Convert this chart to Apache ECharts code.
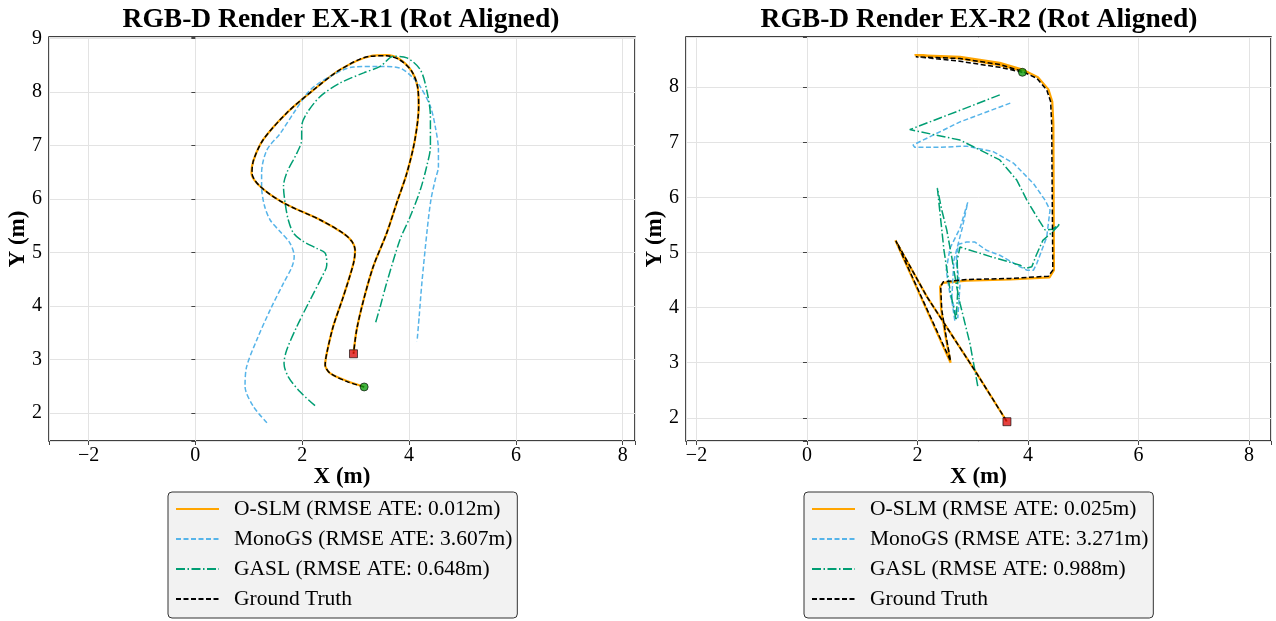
<!DOCTYPE html>
<html>
<head>
<meta charset="utf-8">
<script src="https://cdn.jsdelivr.net/npm/echarts@6/dist/echarts.min.js"></script>
<style>
  html, body { margin: 0; padding: 0; background: #fff; }
  #chart { width: 1276px; height: 621px; }
</style>
</head>
<body>
<div id="chart"></div>
<script>
// ---- EX-R1 trajectories [x, y] in metres ----
const gtR1 = [
  [3.16, 2.49], [2.84, 2.59], [2.52, 2.75], [2.43, 2.90], [2.46, 3.12], [2.58, 3.62],
  [2.77, 4.18], [2.96, 4.80], [2.99, 5.05], [2.93, 5.21], [2.77, 5.36], [2.34, 5.61],
  [1.65, 5.93], [1.21, 6.24], [1.06, 6.49], [1.09, 6.73], [1.27, 7.11], [1.71, 7.61],
  [2.21, 8.04], [2.71, 8.42], [3.27, 8.67], [3.58, 8.68], [3.83, 8.60], [4.05, 8.39],
  [4.16, 8.10], [4.18, 7.73], [4.11, 7.11], [3.96, 6.49], [3.77, 5.93], [3.58, 5.36],
  [3.33, 4.74], [3.15, 4.12], [3.02, 3.56], [2.96, 3.11]
];
const oslmR1 = [
  [3.16, 2.49], [2.84, 2.60], [2.52, 2.75], [2.43, 2.90], [2.46, 3.12], [2.58, 3.62],
  [2.77, 4.18], [2.96, 4.80], [2.99, 5.05], [2.93, 5.21], [2.77, 5.36], [2.34, 5.61],
  [1.65, 5.93], [1.21, 6.24], [1.05, 6.49], [1.09, 6.73], [1.27, 7.11], [1.71, 7.61],
  [2.21, 8.04], [2.71, 8.42], [3.27, 8.67], [3.58, 8.69], [3.83, 8.61], [4.05, 8.39],
  [4.16, 8.10], [4.18, 7.73], [4.11, 7.11], [3.96, 6.49], [3.77, 5.93], [3.58, 5.36],
  [3.33, 4.74], [3.15, 4.12], [3.02, 3.56], [2.96, 3.11]
];
const monoR1 = [
  [1.34, 1.82], [1.09, 2.12], [0.93, 2.50], [0.96, 2.87], [1.15, 3.37], [1.40, 3.93],
  [1.65, 4.43], [1.81, 4.74], [1.85, 4.93], [1.77, 5.18], [1.59, 5.39], [1.40, 5.61],
  [1.29, 5.89], [1.24, 6.24], [1.24, 6.49], [1.34, 6.92], [1.59, 7.23], [1.84, 7.61],
  [2.15, 8.04], [2.52, 8.29], [2.96, 8.47], [3.46, 8.48], [3.83, 8.45], [4.05, 8.29],
  [4.21, 8.10], [4.40, 7.73], [4.49, 7.36], [4.55, 6.92], [4.55, 6.61], [4.49, 6.36],
  [4.41, 5.99], [4.34, 5.43], [4.24, 4.43], [4.19, 3.81], [4.15, 3.34]
];
const gaslR1 = [
  [2.24, 2.14], [1.96, 2.40], [1.74, 2.68], [1.66, 2.93], [1.71, 3.18], [1.90, 3.62],
  [2.15, 4.12], [2.37, 4.55], [2.46, 4.77], [2.43, 4.99], [2.27, 5.08], [2.02, 5.21],
  [1.84, 5.36], [1.74, 5.61], [1.68, 5.93], [1.65, 6.24], [1.71, 6.49], [1.90, 6.86],
  [1.99, 7.11], [1.99, 7.36], [2.09, 7.61], [2.34, 7.92], [2.71, 8.17], [3.15, 8.36],
  [3.46, 8.48], [3.71, 8.67], [3.96, 8.64], [4.21, 8.42], [4.33, 8.04], [4.40, 7.54],
  [4.40, 6.98], [4.33, 6.61], [4.21, 6.17], [4.02, 5.67], [3.83, 5.24], [3.58, 4.43],
  [3.46, 3.99], [3.37, 3.68]
];

// ---- EX-R2 trajectories ----
const gtR2 = [
  [3.90, 8.27], [3.49, 8.36], [2.77, 8.47], [1.97, 8.55], [2.77, 8.52], [3.49, 8.41],
  [3.89, 8.29], [4.16, 8.16], [4.34, 7.95], [4.41, 7.74], [4.43, 7.34], [4.45, 4.68],
  [4.37, 4.57], [3.68, 4.53], [2.89, 4.51], [2.47, 4.47], [2.42, 4.38], [2.44, 3.96],
  [2.52, 3.47], [2.60, 3.03], [1.61, 5.21], [2.17, 4.20], [3.07, 2.81], [3.62, 1.93]
];
const oslmR2 = [
  [3.90, 8.30], [3.49, 8.40], [2.77, 8.52], [1.95, 8.58], [2.77, 8.55], [3.49, 8.44],
  [3.90, 8.32], [4.18, 8.18], [4.37, 7.96], [4.44, 7.74], [4.46, 7.34], [4.47, 4.68],
  [4.39, 4.55], [3.68, 4.51], [2.89, 4.49], [2.46, 4.45], [2.41, 4.38], [2.43, 3.96],
  [2.51, 3.47], [2.60, 3.00], [1.60, 5.22], [2.17, 4.20], [3.07, 2.81], [3.62, 1.93]
];
const monoR2 = [
  [3.68, 7.71], [2.77, 7.37], [1.92, 6.95], [1.95, 6.91], [2.41, 6.91], [2.89, 6.93],
  [3.37, 6.83], [3.74, 6.62], [4.10, 6.25], [4.31, 5.95], [4.40, 5.77], [4.37, 5.53],
  [4.34, 5.28], [4.25, 5.04], [4.16, 4.80], [4.10, 4.68], [3.98, 4.68], [3.86, 4.74],
  [3.49, 4.95], [3.25, 5.04], [3.04, 5.19], [2.89, 5.19], [2.74, 5.15], [2.70, 4.83],
  [2.77, 4.41], [2.73, 3.81], [2.59, 4.23], [2.52, 4.68], [2.59, 5.08], [2.77, 5.44],
  [2.91, 5.91], [2.81, 5.44], [2.66, 4.86], [2.62, 4.14], [2.68, 3.74]
];
const gaslR2 = [
  [3.49, 7.86], [2.77, 7.58], [1.86, 7.23], [2.77, 7.04], [3.49, 6.68], [3.80, 6.31],
  [3.98, 5.95], [4.16, 5.65], [4.31, 5.41], [4.44, 5.42], [4.58, 5.52], [4.44, 5.37],
  [4.27, 5.22], [4.15, 4.95], [4.07, 4.74], [3.95, 4.71], [3.86, 4.77], [3.31, 4.93],
  [2.77, 5.10], [2.72, 4.86], [2.73, 4.32], [2.70, 3.77], [2.59, 4.32], [2.48, 5.04],
  [2.36, 6.17], [2.44, 5.77], [2.53, 5.41], [2.62, 4.92], [2.71, 4.38], [2.77, 4.08],
  [2.95, 3.35], [3.10, 2.53]
];

const titles = ["RGB-D Render EX-R1 (Rot Aligned)", "RGB-D Render EX-R2 (Rot Aligned)"];
const namesR1 = ["O-SLM (RMSE ATE: 0.012m)", "MonoGS (RMSE ATE: 3.607m)", "GASL (RMSE ATE: 0.648m)", "Ground Truth"];
const namesR2 = ["O-SLM (RMSE ATE: 0.025m)", "MonoGS (RMSE ATE: 3.271m)", "GASL (RMSE ATE: 0.988m)", "Ground Truth"];

const FONT = "'Liberation Serif', 'Times New Roman', serif";
const ORANGE = "#FFA500", BLUE = "#56B4E9", GREEN = "#009E73";

function tickFmt(step) {
  return function (v) {
    if (Math.abs(v / step - Math.round(v / step)) > 1e-6) return "";
    const r = Math.round(v);
    return r < 0 ? "\u2212" + Math.abs(r) : String(r);
  };
}

function xAxisCfg(idx, min, max) {
  return {
    type: "value", gridIndex: idx, min: min, max: max,
    splitNumber: 5, minInterval: 2, maxInterval: 2,
    name: "X (m)", nameLocation: "middle", nameGap: 25, nameMoveOverlap: false,
    nameTextStyle: { fontFamily: FONT, fontSize: 23, fontWeight: "bold", color: "#000" },
    axisLine: { show: false },
    axisTick: { show: true, length: 4, lineStyle: { color: "#444" } },
    axisLabel: { margin: 5, fontFamily: FONT, fontSize: 20, color: "#000", formatter: tickFmt(2) },
    splitLine: { show: true, lineStyle: { color: "#e3e3e3", width: 1 } }
  };
}

function yAxisCfg(idx, min, max) {
  return {
    type: "value", gridIndex: idx, min: min, max: max,
    splitNumber: 8, minInterval: 1, maxInterval: 1,
    name: "Y (m)", nameLocation: "middle", nameGap: 19, nameRotate: 90, nameMoveOverlap: false,
    nameTextStyle: { fontFamily: FONT, fontSize: 23, fontWeight: "bold", color: "#000" },
    axisLine: { show: false },
    axisTick: { show: true, length: 4, lineStyle: { color: "#444" } },
    axisLabel: { margin: 7, fontFamily: FONT, fontSize: 20, color: "#000", formatter: tickFmt(1) },
    splitLine: { show: true, lineStyle: { color: "#e3e3e3", width: 1 } }
  };
}

function trajSeries(idx, names, oslm, mono, gasl, gt, smooth) {
  const base = { type: "line", xAxisIndex: idx, yAxisIndex: idx, symbol: "none", smooth: smooth, silent: true };
  return [
    Object.assign({}, base, { name: names[0], data: oslm, z: 2,
      lineStyle: { color: ORANGE, width: 2.2, type: "solid" }, itemStyle: { color: ORANGE } }),
    Object.assign({}, base, { name: names[1], data: mono, z: 3,
      lineStyle: { color: BLUE, width: 1.5, type: [5, 2.5] }, itemStyle: { color: BLUE } }),
    Object.assign({}, base, { name: names[2], data: gasl, z: 3,
      lineStyle: { color: GREEN, width: 1.5, type: [9, 2.5, 1.5, 2.5] }, itemStyle: { color: GREEN } }),
    Object.assign({}, base, { name: names[3], data: gt, z: 4,
      lineStyle: { color: "#000", width: 1.5, type: [5, 2.5] }, itemStyle: { color: "#000" } }),
    { type: "scatter", xAxisIndex: idx, yAxisIndex: idx, silent: true, z: 6,
      symbol: "circle", symbolSize: 8, data: [gt[0]],
      itemStyle: { color: "#11a011", borderColor: "#000", borderWidth: 0.8 } },
    { type: "scatter", xAxisIndex: idx, yAxisIndex: idx, silent: true, z: 6,
      symbol: "rect", symbolSize: 8, data: [gt[gt.length - 1]],
      itemStyle: { color: "#dd1111", borderColor: "#000", borderWidth: 0.8 } }
  ];
}

function legendCfg(left, names) {
  return {
    left: left, top: 492, height: 160, orient: "vertical",
    data: names, itemWidth: 43, itemHeight: 14, itemGap: 8,
    padding: [6, 5, 8, 7],
    backgroundColor: "#f2f2f2", borderColor: "#333", borderWidth: 1, borderRadius: 4,
    selectedMode: false,
    itemStyle: { opacity: 0 },
    textStyle: { fontFamily: FONT, fontSize: 21.5, color: "#000", lineHeight: 20, padding: [0, 0, 0, 10] }
  };
}

const chart = echarts.init(document.getElementById("chart"), null, { renderer: "canvas" });
chart.setOption({
  animation: false,
  backgroundColor: "#fff",
  title: [
    { text: titles[0], left: 336, top: 1, textAlign: "center",
      textStyle: { fontFamily: FONT, fontSize: 27.5, fontWeight: "bold", color: "#000" } },
    { text: titles[1], left: 974, top: 1, textAlign: "center",
      textStyle: { fontFamily: FONT, fontSize: 27.5, fontWeight: "bold", color: "#000" } }
  ],
  grid: [
    { left: 49, top: 37, width: 586, height: 404, show: true, borderColor: "#000", borderWidth: 1.4, backgroundColor: "#fff" },
    { left: 686, top: 37, width: 585, height: 404, show: true, borderColor: "#000", borderWidth: 1.4, backgroundColor: "#fff" }
  ],
  xAxis: [xAxisCfg(0, -2.74, 8.23), xAxisCfg(1, -2.19, 8.40)],
  yAxis: [yAxisCfg(0, 1.48, 9.03), yAxisCfg(1, 1.58, 8.91)],
  legend: [legendCfg(168, namesR1), legendCfg(804, namesR2)],
  series: [].concat(
    trajSeries(0, namesR1, oslmR1, monoR1, gaslR1, gtR1, 0.3),
    trajSeries(1, namesR2, oslmR2, monoR2, gaslR2, gtR2, false)
  )
});
</script>
</body>
</html>
